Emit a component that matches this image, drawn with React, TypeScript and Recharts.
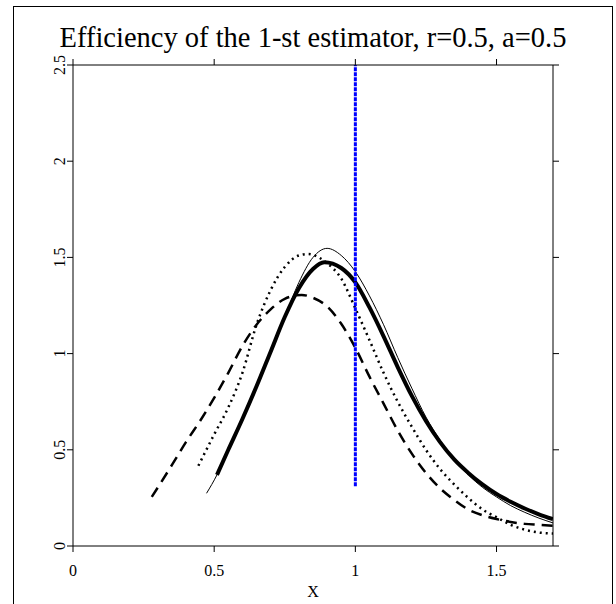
import { LineChart, Line, XAxis, YAxis } from 'recharts';

const serif = '"Liberation Serif", "Times New Roman", serif';

const xTicks = [0, 0.5, 1, 1.5];
const yTicks = [0, 0.5, 1, 1.5, 2, 2.5];

// thick solid
const thickX = [0.51, 0.55, 0.6, 0.65, 0.7, 0.75, 0.8, 0.85, 0.89, 0.95, 1.0, 1.05, 1.1, 1.15, 1.2, 1.25, 1.3, 1.35, 1.4, 1.45, 1.5, 1.55, 1.6, 1.65, 1.7];
const thickY = [0.37, 0.5, 0.66, 0.83, 1.01, 1.19, 1.34, 1.44, 1.475, 1.445, 1.37, 1.24, 1.09, 0.93, 0.78, 0.65, 0.54, 0.45, 0.38, 0.32, 0.27, 0.23, 0.195, 0.165, 0.14];

// thin solid
const thinX = [0.473, 0.51, 0.55, 0.6, 0.65, 0.7, 0.75, 0.8, 0.85, 0.9, 0.95, 1.0, 1.05, 1.1, 1.15, 1.2, 1.25, 1.3, 1.35, 1.4, 1.45, 1.5, 1.55, 1.6, 1.65, 1.7];
const thinY = [0.274, 0.37, 0.5, 0.66, 0.83, 1.01, 1.19, 1.37, 1.5, 1.547, 1.51, 1.426, 1.3, 1.15, 0.98, 0.82, 0.67, 0.55, 0.45, 0.37, 0.305, 0.255, 0.21, 0.175, 0.145, 0.12];

// dotted
const dotX = [0.444, 0.5, 0.55, 0.6, 0.65, 0.7, 0.75, 0.8, 0.833, 0.87, 0.9, 0.95, 1.0, 1.05, 1.1, 1.15, 1.2, 1.25, 1.3, 1.35, 1.4, 1.45, 1.5, 1.55, 1.6, 1.65, 1.7];
const dotY = [0.417, 0.58, 0.72, 0.9, 1.15, 1.33, 1.45, 1.51, 1.518, 1.5, 1.47, 1.39, 1.235, 1.07, 0.9, 0.75, 0.62, 0.5, 0.4, 0.32, 0.25, 0.19, 0.15, 0.11, 0.085, 0.07, 0.065];

// dashed
const dashX = [0.279, 0.35, 0.4, 0.45, 0.5, 0.55, 0.6, 0.65, 0.7, 0.75, 0.81, 0.85, 0.9, 0.95, 1.0, 1.05, 1.1, 1.15, 1.2, 1.25, 1.3, 1.35, 1.4, 1.45, 1.5, 1.55, 1.6, 1.65, 1.7];
const dashY = [0.255, 0.42, 0.54, 0.65, 0.77, 0.9, 1.04, 1.15, 1.23, 1.285, 1.305, 1.29, 1.245, 1.155, 1.03, 0.88, 0.74, 0.6, 0.48, 0.38, 0.3, 0.24, 0.19, 0.16, 0.14, 0.125, 0.115, 0.11, 0.105];

// vertical reference at x = 1
const refX = [1, 1];
const refY = [0.31, 2.5];

const pts = (xs: number[], ys: number[]) => xs.map((x, i) => ({ x, y: ys[i] }));

const YTick = (props: any) => {
  const { x, y, payload } = props;
  return (
    <text
      x={x}
      y={y}
      transform={`rotate(-90 ${x} ${y})`}
      textAnchor="middle"
      fontFamily={serif}
      fontSize={16}
      fill="#000"
    >
      {payload.value}
    </text>
  );
};

export default function App() {
  return (
    <div style={{ position: 'absolute', left: 0, top: 0, width: 616, height: 604, background: '#fff' }}>
      <LineChart width={616} height={604} margin={{ top: 60, right: 53, bottom: 28, left: 0 }}>
        <XAxis
          xAxisId="b"
          type="number"
          dataKey="x"
          domain={[0, 1.7]}
          ticks={xTicks}
          allowDataOverflow
          height={30}
          tickSize={6}
          tickMargin={13}
          stroke="#000"
          tick={{ fill: '#000', fontSize: 16, fontFamily: serif }}
        />
        <XAxis
          xAxisId="t"
          orientation="top"
          type="number"
          dataKey="x"
          domain={[0, 1.7]}
          ticks={xTicks}
          allowDataOverflow
          height={5}
          tickSize={6}
          stroke="#000"
          tickFormatter={() => ''}
        />
        <YAxis
          yAxisId="l"
          type="number"
          domain={[0, 2.5]}
          ticks={yTicks}
          allowDataOverflow
          width={73}
          tickSize={6}
          tickMargin={2}
          stroke="#000"
          tick={<YTick />}
        />
        <YAxis
          yAxisId="r"
          orientation="right"
          type="number"
          domain={[0, 2.5]}
          ticks={yTicks}
          allowDataOverflow
          width={10}
          tickSize={6}
          stroke="#000"
          tickFormatter={() => ''}
        />
        <Line xAxisId="b" yAxisId="l" data={pts(dashX, dashY)} dataKey="y" type="monotone" stroke="#000" strokeWidth={2.5} strokeDasharray="11 7" dot={false} isAnimationActive={false} />
        <Line xAxisId="b" yAxisId="l" data={pts(dotX, dotY)} dataKey="y" type="monotone" stroke="#000" strokeWidth={2.5} strokeDasharray="2 4" dot={false} isAnimationActive={false} />
        <Line xAxisId="b" yAxisId="l" data={pts(thinX, thinY)} dataKey="y" type="monotone" stroke="#000" strokeWidth={1} dot={false} isAnimationActive={false} />
        <Line xAxisId="b" yAxisId="l" data={pts(thickX, thickY)} dataKey="y" type="monotone" stroke="#000" strokeWidth={4} dot={false} isAnimationActive={false} />
        <Line xAxisId="b" yAxisId="l" data={pts(refX, refY)} dataKey="y" type="linear" stroke="#0000ff" strokeWidth={3} strokeDasharray="4 1" dot={false} isAnimationActive={false} />
      </LineChart>
      <svg width={616} height={604} style={{ position: 'absolute', left: 0, top: 0, pointerEvents: 'none' }}>
        <rect x={13.5} y={6.5} width={599} height={620} fill="none" stroke="#000" strokeWidth={1} />
        <text x={313} y={47} textAnchor="middle" fontFamily={serif} fontSize={28.5} fill="#000">
          Efficiency of the 1-st estimator, r=0.5, a=0.5
        </text>
        <text x={313} y={597} textAnchor="middle" fontFamily={serif} fontSize={16} fill="#000">
          X
        </text>
      </svg>
    </div>
  );
}
